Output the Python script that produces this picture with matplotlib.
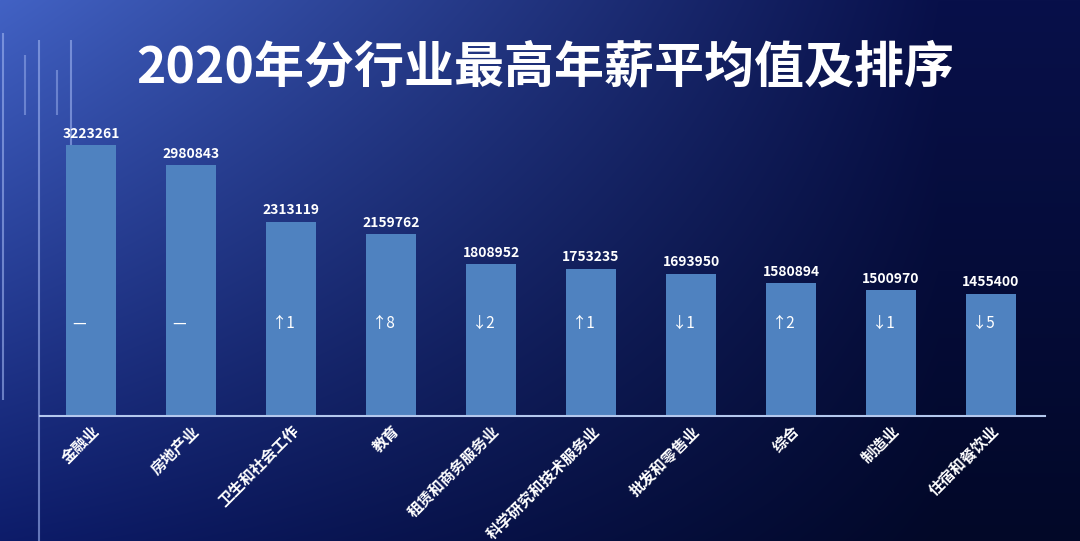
import numpy as np
import matplotlib.pyplot as plt
from matplotlib.colors import to_rgb

plt.rcParams['font.family'] = ['Noto Sans CJK SC', 'DejaVu Sans']

industries = ['金融业', '房地产业', '卫生和社会工作', '教育', '租赁和商务服务业',
              '科学研究和技术服务业', '批发和零售业', '综合', '制造业', '住宿和餐饮业']
salaries = [3223261, 2980843, 2313119, 2159762, 1808952,
            1753235, 1693950, 1580894, 1500970, 1455400]
rank_change = ['—', '—', '↑1', '↑8', '↓2', '↑1', '↓1', '↑2', '↓1', '↓5']

fig = plt.figure(figsize=(10.8, 5.41), dpi=100)

# фон: градиент по четырём углам
bg = fig.add_axes([0, 0, 1, 1])
h, w = 541, 1080
yy, xx = np.mgrid[0:1:h * 1j, 0:1:w * 1j]
tl, tr = np.array(to_rgb('#4262c4')), np.array(to_rgb('#08104a'))
bl, br = np.array(to_rgb('#0d1c6a')), np.array(to_rgb('#020828'))
xs = np.clip(xx * 1.15, 0, 1)[..., None]
ys = yy[..., None]
img = (tl * (1 - xs) * (1 - ys) + tr * xs * (1 - ys)
       + bl * (1 - xs) * ys + br * xs * ys)
bg.imshow(img, aspect='auto', extent=[0, 1, 0, 1], origin='upper')
bg.set_xlim(0, 1)
bg.set_ylim(0, 1)
bg.axis('off')

# декоративные полосы слева сверху
for x0, y0, y1, a in [(3, 33, 400, 0.6), (25, 55, 115, 0.5), (39, 40, 541, 0.6),
                      (57, 70, 115, 0.5), (71, 40, 145, 0.6)]:
    bg.plot([x0 / w, x0 / w], [1 - y0 / h, 1 - y1 / h], color='#9fb4f0',
            lw=1.5, alpha=a, solid_capstyle='butt')

bg.text(0.505, 0.875, '2020年分行业最高年薪平均值及排序', color='white',
        fontsize=36, fontweight='bold', ha='center', va='center')

ax = fig.add_axes([40 / 1080, 1 - 416 / 541, 1005 / 1080, 316 / 541])
ax.patch.set_alpha(0)
x = np.arange(len(industries))
bars = ax.bar(x, salaries, width=0.5, color='#4f82c0')
ax.set_xlim(-0.51, 9.54)
ax.set_ylim(0, 3.76e6)

for xi, v, r in zip(x, salaries, rank_change):
    ax.text(xi, v + 5e4, str(v), color='white', fontsize=10, fontweight='bold',
            ha='center', va='bottom')
    ax.text(xi - 0.19, 1.1e6, r, color='white', fontsize=11,
            ha='left', va='center')

for s in ['top', 'right', 'left']:
    ax.spines[s].set_visible(False)
ax.spines['bottom'].set_color('#b4c8ee')
ax.spines['bottom'].set_linewidth(1.5)
ax.set_yticks([])
ax.set_xticks(x)
ax.set_xticklabels(industries, rotation=45, ha='right', rotation_mode='anchor',
                   color='white', fontsize=11, fontweight='bold')
ax.tick_params(axis='x', length=0, pad=5)

plt.savefig('out.png', dpi=100)
